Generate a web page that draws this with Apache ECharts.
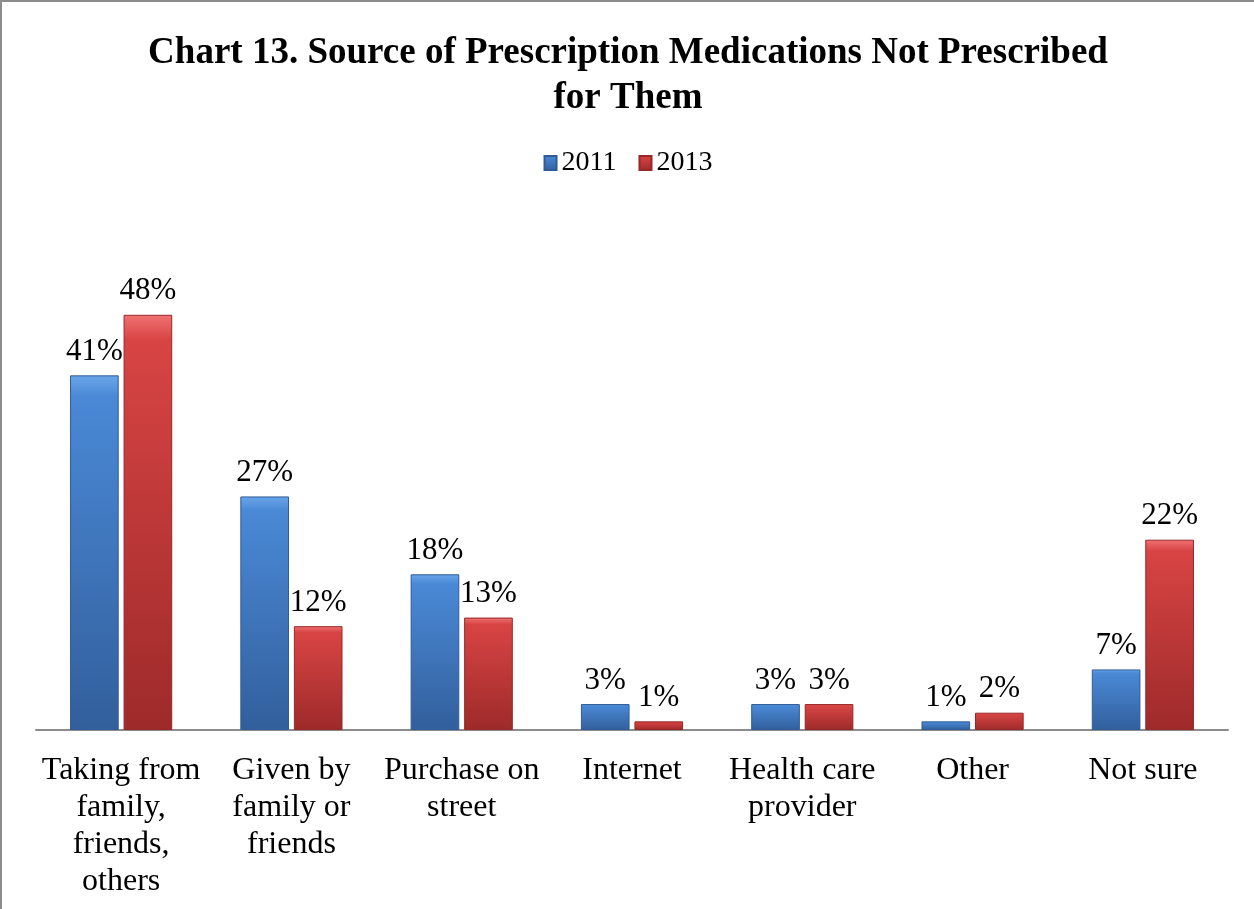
<!DOCTYPE html>
<html>
<head>
<meta charset="utf-8">
<script src="https://cdn.jsdelivr.net/npm/echarts@6/dist/echarts.min.js"></script>
<style>
  html, body { margin: 0; padding: 0; background: #fff; }
  #chart {
    width: 1254px; height: 909px; box-sizing: border-box;
    border-top: 2px solid #8c8c8c; border-left: 2px solid #8c8c8c;
  }
</style>
</head>
<body>
<div id="chart"></div>
<script>
const categories = [
  'Taking from\nfamily,\nfriends,\nothers',
  'Given by\nfamily or\nfriends',
  'Purchase on\nstreet',
  'Internet',
  'Health care\nprovider',
  'Other',
  'Not sure'
]
const values2011 = [41, 27, 18, 3, 3, 1, 7]
const values2013 = [48, 12, 13, 1, 3, 2, 22]

const serif = '"Liberation Serif", "Times New Roman", serif'

const barFill = (light, mid, dark) => new echarts.graphic.LinearGradient(0, 0, 0, 1, [
  { offset: 0, color: light },
  { offset: 0.06, color: mid },
  { offset: 1, color: dark }
])

const chart = echarts.init(document.getElementById('chart'))

const labelStyle = {
  show: true,
  position: 'top',
  distance: 8,
  formatter: '{c}%',
  fontFamily: serif,
  fontSize: 31,
  color: '#000'
}

chart.setOption({
  animation: false,
  title: {
    text: 'Chart 13. Source of Prescription Medications Not Prescribed\nfor Them',
    left: 'center',
    top: 24,
    textStyle: {
      fontFamily: serif,
      fontWeight: 'bold',
      fontSize: 37,
      lineHeight: 45,
      color: '#000'
    }
  },
  legend: {
    top: 142,
    left: 'center',
    icon: 'rect',
    itemWidth: 12,
    itemHeight: 14,
    itemGap: 22,
    textStyle: { fontFamily: serif, fontSize: 28, color: '#000' },
    data: ['2011', '2013']
  },
  grid: {
    left: 34,
    right: 26,
    top: 209,
    bottom: 179,
    containLabel: false
  },
  xAxis: {
    type: 'category',
    data: categories,
    axisLine: { lineStyle: { color: '#8c8c8c', width: 2 } },
    axisTick: { show: false },
    axisLabel: {
      interval: 0,
      margin: 22,
      fontFamily: serif,
      fontSize: 32,
      lineHeight: 37,
      color: '#000',
      verticalAlign: 'top'
    }
  },
  yAxis: {
    type: 'value',
    min: 0,
    max: 60,
    show: false,
    splitLine: { show: false }
  },
  series: [
    {
      name: '2011',
      type: 'bar',
      data: values2011,
      barGap: '10%',
      barCategoryGap: '40%',
      itemStyle: {
        color: barFill('#6aa6ea', '#4a89d6', '#325f9c'),
        borderColor: '#2f5c96',
        borderWidth: 1
      },
      label: labelStyle
    },
    {
      name: '2013',
      type: 'bar',
      data: values2013,
      itemStyle: {
        color: barFill('#f07272', '#d84444', '#9e2a2a'),
        borderColor: '#962828',
        borderWidth: 1
      },
      label: labelStyle
    }
  ]
})
</script>
</body>
</html>
